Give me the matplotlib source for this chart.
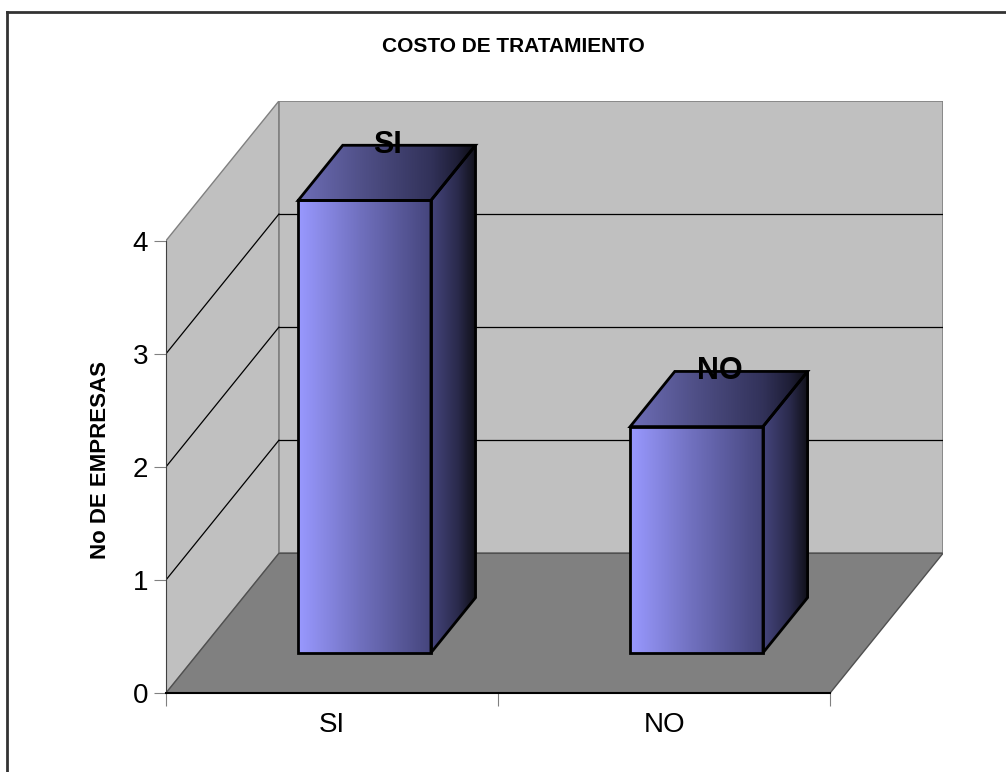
import numpy as np
import matplotlib
matplotlib.use("Agg")
from matplotlib import pyplot as plt
from matplotlib.patches import Polygon
from matplotlib.lines import Line2D
from matplotlib.colors import LinearSegmentedColormap

plt.rcParams["font.family"] = ["Liberation Sans", "DejaVu Sans"]

# data
categories = ["SI", "NO"]
values = [4, 2]
y_ticks = [0, 1, 2, 3, 4]

# pseudo 3d geometry (data units)
DX = 0.34      # depth shift along x
DY = 1.235     # depth shift along y
F0, F1 = 0.288, 0.683   # bar depth range (fraction of floor depth)
BAR_W = 0.40
XMAX, YMAX = len(categories), 4

wall = "#C0C0C0"
floor = "#808080"
grad = LinearSegmentedColormap.from_list(
    "bar", [(0, "#9999FF"), (0.35, "#7070BE"), (0.75, "#45457C"), (0.9, "#2A2A4C"), (1, "#101018")])

fig = plt.figure(figsize=(10.06, 7.72), dpi=100)
W, H = 1006, 772
ax = fig.add_axes([166 / W, 1 - 693 / H, (943 - 166) / W, (693 - 101) / H])
ax.set_xlim(0, XMAX + DX)
ax.set_ylim(0, YMAX + DY)
ax.set_facecolor("none")

# walls and floor
ax.add_patch(Polygon([(0, 0), (0, YMAX), (DX, YMAX + DY), (DX, DY)],
                     facecolor=wall, edgecolor="#808080", lw=1, zorder=1))
ax.add_patch(Polygon([(DX, DY), (DX, YMAX + DY), (XMAX + DX, YMAX + DY), (XMAX + DX, DY)],
                     facecolor=wall, edgecolor="#808080", lw=1.2, zorder=1))
for v in y_ticks[1:-1]:
    ax.plot([DX, XMAX + DX], [v + DY, v + DY], color="black", lw=0.9, zorder=2)
    ax.plot([0, DX], [v, v + DY], color="black", lw=0.9, zorder=2)
ax.add_patch(Polygon([(0, 0), (XMAX, 0), (XMAX + DX, DY), (DX, DY)],
                     facecolor=floor, edgecolor="#505050", lw=1, zorder=3))

# bars
gimg = grad(np.linspace(0, 1, 256))[None, :, :3]
for i, (cat, v) in enumerate(zip(categories, values)):
    x0 = i + 0.5 - BAR_W / 2 + DX * F0
    yb = DY * F0
    yt = v + DY * F0
    bdx = DX * (F1 - F0)
    bdy = DY * (F1 - F0)
    front = [(x0, yb), (x0 + BAR_W, yb), (x0 + BAR_W, yt), (x0, yt)]
    side = [(x0 + BAR_W, yb), (x0 + BAR_W + bdx, yb + bdy), (x0 + BAR_W + bdx, yt + bdy), (x0 + BAR_W, yt)]
    top = [(x0, yt), (x0 + BAR_W, yt), (x0 + BAR_W + bdx, yt + bdy), (x0 + bdx, yt + bdy)]
    ext = [x0, x0 + BAR_W + bdx, yb, yt + bdy]
    for poly, shade in ((side, 1.0), (top, 0.72), (front, 1.0)):
        p = Polygon(poly, closed=True, facecolor="none", edgecolor="black", lw=2, zorder=6)
        ax.add_patch(p)
        im = ax.imshow(gimg * shade, extent=ext, aspect="auto", zorder=5, interpolation="bilinear")
        im.set_clip_path(p)
    ax.text(i + 0.5 + DX * F1 - 0.065, v + DY * F1, cat, ha="center", va="center",
            fontsize=22, fontweight="bold", zorder=7)

# axes styling
for s in ["top", "right"]:
    ax.spines[s].set_visible(False)
ax.spines["left"].set_bounds(0, YMAX)
ax.spines["left"].set_color("#404040")
ax.spines["bottom"].set_bounds(0, XMAX)
ax.spines["bottom"].set_linewidth(1.5)
ax.spines["left"].set_zorder(4)
ax.spines["bottom"].set_zorder(4)
ax.set_yticks(y_ticks)
ax.set_yticklabels([str(t) for t in y_ticks], fontsize=20)
ax.set_xticks(range(XMAX + 1))
ax.set_xticklabels([])
ax.set_xticks([i + 0.5 for i in range(XMAX)], minor=True)
ax.set_xticklabels(categories, minor=True, fontsize=20)
ax.tick_params(axis="y", length=9, color="#808080", pad=4)
ax.tick_params(axis="x", which="major", length=9, color="#808080")
ax.tick_params(axis="x", which="minor", length=0, pad=14)

fig.text(513 / W, 1 - 47 / H, "COSTO DE TRATAMIENTO", ha="center", va="center",
         fontsize=15, fontweight="bold")
fig.text(100 / W, 1 - 460 / H, "No DE EMPRESAS", ha="center", va="center",
         rotation=90, fontsize=16, fontweight="bold")

# chart border
fig.add_artist(Line2D([7 / W, 7 / W], [0, 1 - 12 / H], color="#333333", lw=2))
fig.add_artist(Line2D([7 / W, 1], [1 - 12 / H, 1 - 12 / H], color="#333333", lw=2))

fig.savefig("out.png", dpi=100)
